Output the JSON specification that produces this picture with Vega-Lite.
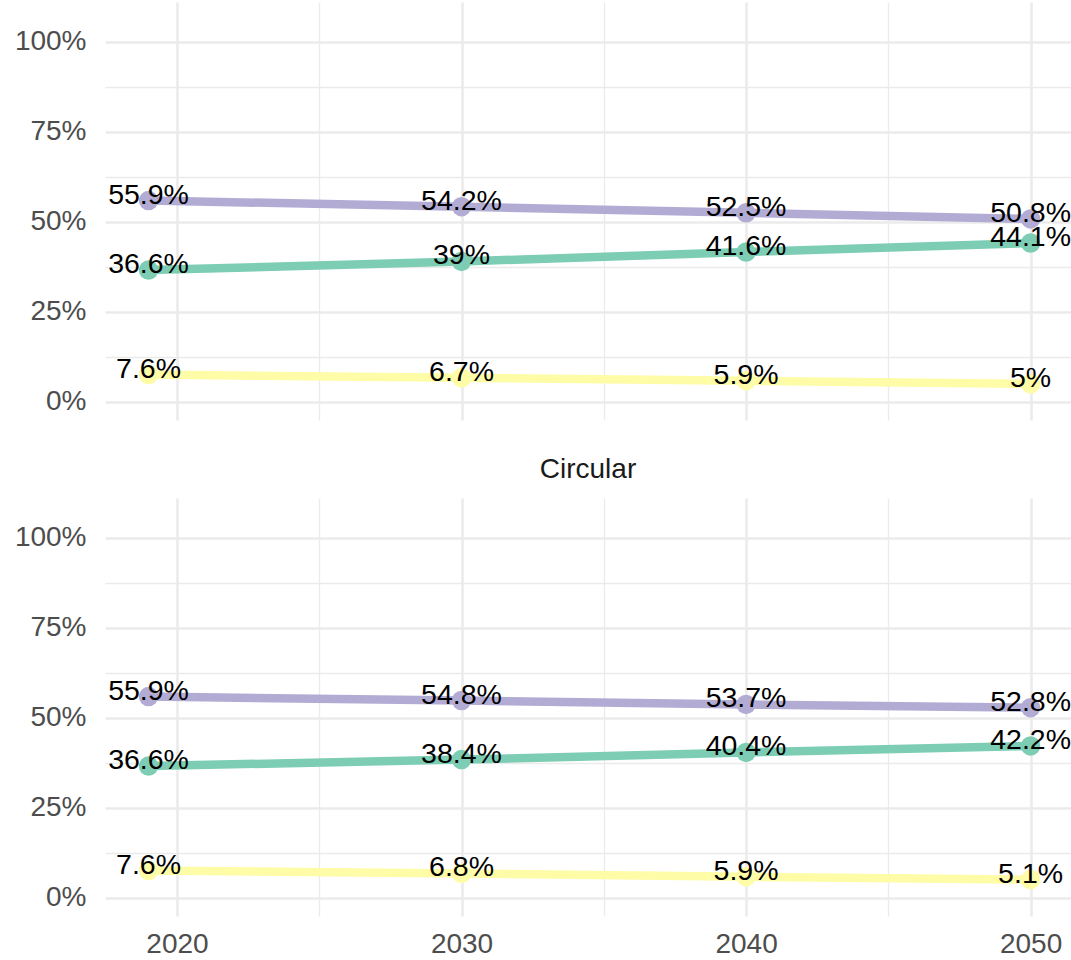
{
  "$schema": "https://vega.github.io/schema/vega-lite/v6.json",
  "padding": {"left": 13, "top": 2, "right": 0, "bottom": 0},
  "background": "white",
  "config": {
    "view": {"stroke": null},
    "font": "Liberation Sans",
    "axis": {"domain": false, "ticks": false, "gridColor": "#EBEBEB", "labelColor": "#4D4D4D", "labelFontSize": 28, "labelFont": "Liberation Sans", "title": null, "labelOverlap": false, "labelFlush": false}
  },
  "data": {
    "values": [
      {"scenario": "Baseline", "group": "A", "year": 2019, "share": 0.559},
      {"scenario": "Baseline", "group": "A", "year": 2030, "share": 0.542},
      {"scenario": "Baseline", "group": "A", "year": 2040, "share": 0.525},
      {"scenario": "Baseline", "group": "A", "year": 2050, "share": 0.508},
      {"scenario": "Baseline", "group": "B", "year": 2019, "share": 0.366},
      {"scenario": "Baseline", "group": "B", "year": 2030, "share": 0.39},
      {"scenario": "Baseline", "group": "B", "year": 2040, "share": 0.416},
      {"scenario": "Baseline", "group": "B", "year": 2050, "share": 0.441},
      {"scenario": "Baseline", "group": "C", "year": 2019, "share": 0.076},
      {"scenario": "Baseline", "group": "C", "year": 2030, "share": 0.067},
      {"scenario": "Baseline", "group": "C", "year": 2040, "share": 0.059},
      {"scenario": "Baseline", "group": "C", "year": 2050, "share": 0.05},
      {"scenario": "Circular", "group": "A", "year": 2019, "share": 0.559},
      {"scenario": "Circular", "group": "A", "year": 2030, "share": 0.548},
      {"scenario": "Circular", "group": "A", "year": 2040, "share": 0.537},
      {"scenario": "Circular", "group": "A", "year": 2050, "share": 0.528},
      {"scenario": "Circular", "group": "B", "year": 2019, "share": 0.366},
      {"scenario": "Circular", "group": "B", "year": 2030, "share": 0.384},
      {"scenario": "Circular", "group": "B", "year": 2040, "share": 0.404},
      {"scenario": "Circular", "group": "B", "year": 2050, "share": 0.422},
      {"scenario": "Circular", "group": "C", "year": 2019, "share": 0.076},
      {"scenario": "Circular", "group": "C", "year": 2030, "share": 0.068},
      {"scenario": "Circular", "group": "C", "year": 2040, "share": 0.059},
      {"scenario": "Circular", "group": "C", "year": 2050, "share": 0.051}
    ]
  },
  "spacing": 36,
  "vconcat": [
    {
      "width": 966,
      "height": 418,
      "transform": [{"filter": "datum.scenario === 'Baseline'"}],
      "encoding": {
        "x": {"field": "year", "type": "quantitative", "scale": {"domain": [2017.47, 2051.42], "nice": false, "zero": false},
          "axis": {"values": [2020, 2025, 2030, 2035, 2040, 2045, 2050], "labels": false, "minExtent": 0, "maxExtent": 0,
            "gridWidth": {"condition": {"test": "datum.value % 10 === 0", "value": 2.6}, "value": 1.3}}},
        "y": {"field": "share", "type": "quantitative", "scale": {"domain": [-0.05, 1.11], "nice": false, "zero": false},
          "axis": {"values": [0, 0.125, 0.25, 0.375, 0.5, 0.625, 0.75, 0.875, 1], "format": ".0%", "labelPadding": 19, "minExtent": 92, "maxExtent": 92,
            "labelExpr": "(datum.value * 4) % 1 === 0 ? datum.label : ''",
            "gridWidth": {"condition": {"test": "(datum.value * 4) % 1 === 0", "value": 2.6}, "value": 1.3}}},
        "color": {"field": "group", "type": "nominal", "scale": {"domain": ["A", "B", "C"], "range": ["#B2ACD5", "#7CCDB4", "#FFFCA8"]}, "legend": null}
      },
      "layer": [
        {"mark": {"type": "line", "strokeWidth": 8.5}},
        {"mark": {"type": "circle", "size": 380, "opacity": 1}},
        {"mark": {"type": "text", "fontSize": 28.5, "dy": -6, "font": "Liberation Sans"},
          "encoding": {"text": {"field": "share", "type": "quantitative", "format": ".1~%"}, "color": {"value": "black"}}}
      ]
    },
    {
      "width": 966,
      "height": 418,
      "title": {"text": "Circular", "fontSize": 28, "fontWeight": "normal", "color": "#1A1A1A", "anchor": "middle", "frame": "group", "baseline": "bottom", "offset": -14, "font": "Liberation Sans"},
      "transform": [{"filter": "datum.scenario === 'Circular'"}],
      "encoding": {
        "x": {"field": "year", "type": "quantitative", "scale": {"domain": [2017.47, 2051.42], "nice": false, "zero": false},
          "axis": {"values": [2020, 2025, 2030, 2035, 2040, 2045, 2050], "format": "d", "labelPadding": 14,
            "labelExpr": "datum.value % 10 === 0 ? datum.label : ''",
            "gridWidth": {"condition": {"test": "datum.value % 10 === 0", "value": 2.6}, "value": 1.3}}},
        "y": {"field": "share", "type": "quantitative", "scale": {"domain": [-0.05, 1.11], "nice": false, "zero": false},
          "axis": {"values": [0, 0.125, 0.25, 0.375, 0.5, 0.625, 0.75, 0.875, 1], "format": ".0%", "labelPadding": 19, "minExtent": 92, "maxExtent": 92,
            "labelExpr": "(datum.value * 4) % 1 === 0 ? datum.label : ''",
            "gridWidth": {"condition": {"test": "(datum.value * 4) % 1 === 0", "value": 2.6}, "value": 1.3}}},
        "color": {"field": "group", "type": "nominal", "scale": {"domain": ["A", "B", "C"], "range": ["#B2ACD5", "#7CCDB4", "#FFFCA8"]}, "legend": null}
      },
      "layer": [
        {"mark": {"type": "line", "strokeWidth": 8.5}},
        {"mark": {"type": "circle", "size": 380, "opacity": 1}},
        {"mark": {"type": "text", "fontSize": 28.5, "dy": -6, "font": "Liberation Sans"},
          "encoding": {"text": {"field": "share", "type": "quantitative", "format": ".1~%"}, "color": {"value": "black"}}}
      ]
    }
  ]
}
